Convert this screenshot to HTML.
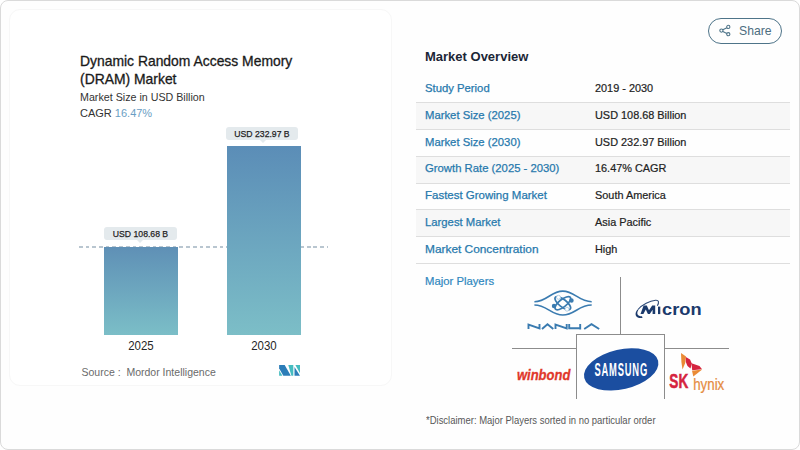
<!DOCTYPE html>
<html><head><meta charset="utf-8">
<style>
*{margin:0;padding:0;box-sizing:border-box}
html,body{width:800px;height:450px;overflow:hidden;background:#fff}
body{position:relative;font-family:"Liberation Sans",sans-serif}
.frame{position:absolute;left:0;top:0;width:800px;height:450px;border:1px solid #dadada;border-radius:8px;background:#fefefe}
.card{position:absolute;left:9px;top:9px;width:383px;height:377px;background:#fff;border-radius:11px;border:1px solid #f7f7f7}
.t{position:absolute;white-space:nowrap;line-height:1}
.lbl{color:#2779ad;-webkit-text-stroke:0.25px #2779ad}
.val{color:#222;-webkit-text-stroke:0.2px #222}
.row{position:absolute;left:416px;width:374px;height:27px}
.gray{background:#f7f7f7}
.hl{position:absolute;left:416px;width:374px;height:1px;background:#dedede}
.gl{position:absolute;background:#8c8c8c}
</style></head><body>
<div class="frame"></div>
<div class="card"></div>

<!-- chart title -->
<div class="t" style="left:80px;top:53px;font-size:13.9px;color:#1a1a1a;line-height:17.5px;-webkit-text-stroke:0.3px #1a1a1a">Dynamic Random Access Memory<br>(DRAM) Market</div>
<div class="t" style="left:80px;top:91.5px;font-size:10.7px;color:#333">Market Size in USD Billion</div>
<div class="t" style="left:80px;top:108px;font-size:11px;color:#333">CAGR <span style="color:#6a9ec4">16.47%</span></div>

<!-- dashed line -->
<div style="position:absolute;left:79px;top:246px;width:249px;height:2px;background:repeating-linear-gradient(90deg,#b9c6d0 0 3.7px,transparent 3.7px 6.7px)"></div>

<!-- bars -->
<div style="position:absolute;left:104px;top:247px;width:74px;height:88px;background:linear-gradient(#5f90b6,#7bbec7)"></div>
<div style="position:absolute;left:227px;top:146px;width:74px;height:189px;background:linear-gradient(#5b8db7,#7cbec7)"></div>

<!-- bar labels -->
<div style="position:absolute;left:104px;top:227px;width:73px;height:13px;background:#e4eaed;border-radius:3px"></div>
<div style="position:absolute;left:137px;top:240px;width:0;height:0;border-left:3px solid transparent;border-right:3px solid transparent;border-top:3px solid #e4eaed"></div>
<div class="t" style="left:104px;top:229.5px;width:73px;text-align:center;font-size:9.3px;color:#1f1f1f;transform:scaleX(0.93);-webkit-text-stroke:0.25px #1f1f1f">USD 108.68 B</div>

<div style="position:absolute;left:226px;top:127px;width:72px;height:13px;background:#e4eaed;border-radius:3px"></div>
<div style="position:absolute;left:260px;top:140px;width:0;height:0;border-left:3px solid transparent;border-right:3px solid transparent;border-top:3px solid #e4eaed"></div>
<div class="t" style="left:226px;top:129.5px;width:72px;text-align:center;font-size:9.3px;color:#1f1f1f;transform:scaleX(0.93);-webkit-text-stroke:0.25px #1f1f1f">USD 232.97 B</div>

<!-- years -->
<div class="t" style="left:104px;top:340px;width:74px;text-align:center;font-size:12.2px;color:#262626;transform:scaleX(0.94)">2025</div>
<div class="t" style="left:227px;top:340px;width:74px;text-align:center;font-size:12.2px;color:#262626;transform:scaleX(0.94)">2030</div>

<!-- source -->
<div class="t" style="left:81.5px;top:366.8px;font-size:10.5px;color:#6a6a6a">Source :&nbsp; Mordor Intelligence</div>
<svg style="position:absolute;left:0;top:0" width="800" height="450" viewBox="0 0 800 450">
<polygon points="279.1,364.9 284.7,364.9 290.8,375.8 283.3,375.8 279.1,368.3" fill="#2c7db8"/>
<polygon points="279.1,370.2 279.1,375.8 282.4,375.8" fill="#45bcc0"/>
<polygon points="288.3,364.9 293.3,364.9 293.3,375.8 291.4,375.8" fill="#45bcc0"/>
<polygon points="294.5,367 294.5,375.8 300,375.8" fill="#2c7db8"/>
<polygon points="295.4,364.9 300,364.9 300,373.3" fill="#45bcc0"/>
</svg>

<!-- share -->
<div style="position:absolute;left:708px;top:18px;width:74px;height:26px;border:1.3px solid #4e7489;border-radius:13px"></div>
<svg style="position:absolute;left:719px;top:24.4px" width="12" height="13" viewBox="0 0 12 13">
<g fill="none" stroke="#4e7489" stroke-width="1.1">
<circle cx="9.3" cy="2.9" r="1.6"/><circle cx="2.4" cy="6.6" r="1.6"/><circle cx="9.3" cy="10.2" r="1.6"/>
<line x1="3.8" y1="5.8" x2="7.9" y2="3.7"/><line x1="3.8" y1="7.4" x2="7.9" y2="9.4"/>
</g></svg>
<div class="t" style="left:739px;top:25.3px;font-size:12.2px;color:#4d6d80">Share</div>

<!-- market overview -->
<div class="t" style="left:425px;top:50px;font-size:13px;font-weight:bold;color:#1b2636">Market Overview</div>

<div class="row gray" style="top:103px"></div>
<div class="row gray" style="top:157px"></div>
<div class="row gray" style="top:210px"></div>
<div class="hl" style="top:102px"></div>
<div class="hl" style="top:129px"></div>
<div class="hl" style="top:156px"></div>
<div class="hl" style="top:183px"></div>
<div class="hl" style="top:209px"></div>
<div class="hl" style="top:236px"></div>
<div class="hl" style="top:263px"></div>

<div class="t lbl" style="left:425px;top:83px;font-size:11.3px">Study Period</div>
<div class="t val" style="font-size:10.9px;left:595px;top:83px">2019 - 2030</div>
<div class="t lbl" style="left:425px;top:110px;font-size:11.3px">Market Size (2025)</div>
<div class="t val" style="font-size:10.9px;left:595px;top:110px">USD 108.68 Billion</div>
<div class="t lbl" style="left:425px;top:137px;font-size:11.3px">Market Size (2030)</div>
<div class="t val" style="font-size:10.9px;left:595px;top:137px">USD 232.97 Billion</div>
<div class="t lbl" style="left:425px;top:163px;font-size:11.3px">Growth Rate (2025 - 2030)</div>
<div class="t val" style="font-size:10.9px;left:595px;top:163px">16.47% CAGR</div>
<div class="t lbl" style="left:425px;top:190px;font-size:11.3px;transform:scaleX(1.017);transform-origin:0 0">Fastest Growing Market</div>
<div class="t val" style="font-size:10.9px;left:595px;top:190px">South America</div>
<div class="t lbl" style="left:425px;top:217px;font-size:11.3px">Largest Market</div>
<div class="t val" style="font-size:10.9px;left:595px;top:217px">Asia Pacific</div>
<div class="t lbl" style="left:425px;top:244px;font-size:11.3px;transform:scaleX(1.051);transform-origin:0 0">Market Concentration</div>
<div class="t val" style="font-size:10.9px;left:595px;top:244px">High</div>

<div class="t" style="left:425px;top:276px;font-size:11.3px;color:#2f88be;-webkit-text-stroke:0.2px #2f88be">Major Players</div>

<!-- logo grid -->
<div class="gl" style="left:620px;top:277px;width:1px;height:57px"></div>
<div class="gl" style="left:576px;top:334px;width:89px;height:1px"></div>
<div class="gl" style="left:576px;top:334px;width:1px;height:65px"></div>
<div class="gl" style="left:664px;top:334px;width:1px;height:65px"></div>
<div class="gl" style="left:512px;top:348px;width:64px;height:1px"></div>
<div class="gl" style="left:665px;top:348px;width:64px;height:1px"></div>


<!-- logos -->
<svg style="position:absolute;left:0;top:0" width="800" height="450" viewBox="0 0 800 450">
 <!-- nanya -->
 <g transform="translate(525,285)" fill="none" stroke="#3a7bb0" stroke-width="1.6">
  <path d="M9.4,16.7 C22,16.7 26,6.1 37.8,6.1 C49.6,6.1 53.6,16.7 66.7,16.7"/>
  <path d="M9.4,20 C22,20 26,30 37.8,30 C49.6,30 53.6,20 66.7,20"/>
  <ellipse cx="37.8" cy="18.2" rx="9.5" ry="3.8" transform="rotate(38 37.8 18.2)" stroke-width="1.7"/>
  <ellipse cx="37.8" cy="18.2" rx="9.5" ry="3.8" transform="rotate(-38 37.8 18.2)" stroke-width="1.7"/>
  <circle cx="46.5" cy="15.5" r="1.4" fill="#3b7db3"/>
  <circle cx="29" cy="21" r="1.4" fill="#3b7db3"/>
  <circle cx="33.5" cy="12.3" r="2" fill="#fff" stroke="#a5c4dc" stroke-width="0.8"/>
  <circle cx="42" cy="24.2" r="2" fill="#fff" stroke="#a5c4dc" stroke-width="0.8"/>
  <path d="M3.5,44 V39.5 L14.5,43.4 V38.9 M17,44 L22.5,39.2 L28.3,44 M30.5,44 V39.5 L41.7,43.4 V38.9 M44.2,38.9 V43.2 H55.2 M55.2,38.9 V44.5 M59.2,44 L66.5,39.2 L74.2,44" stroke-width="1.9"/>
 </g>
 <!-- micron -->
 <g fill="#1b3a6c">
  <path d="M638,309.5 C642,304.5 650,300.8 655.5,300.3 C659,300 659.3,302.5 657.3,305.8" fill="none" stroke="#2c4a78" stroke-width="1.1"/>
  <path d="M642.5,318 C636.5,318.8 633.5,315 637.2,309.8 L638.6,309.4 C636,313.5 637.5,316.2 642,316.3 Z"/>
  <polygon points="640.5,314.1 643.6,305.6 646.8,305.6 649,310.2 652.2,305.6 655.2,305.6 655.2,314.1 652.6,314.1 652.6,309.8 649.8,314.1 647.9,314.1 645.8,309.6 643.4,314.1"/>
  <rect x="658" y="306.6" width="2.3" height="7.5"/>
  <text x="662" y="314.6" font-family="Liberation Sans" font-weight="bold" font-size="16.6" transform="translate(662 0) scale(1.1 1) translate(-662 0)">cron</text>
 </g>
 <!-- winbond -->
 <text x="517" y="380.2" font-family="Liberation Sans" font-weight="bold" font-style="italic" font-size="14.2" fill="#e0372a" stroke="#e0372a" stroke-width="0.3" transform="translate(517 0) scale(0.915 1) translate(-517 0)">winbond</text>
 <!-- samsung -->
 <ellipse cx="621.2" cy="369.4" rx="37.9" ry="19.9" transform="rotate(-13 621.2 369.4)" fill="#1b4ea0"/>
 <text x="621.2" y="376.2" text-anchor="middle" font-family="Liberation Sans" font-size="18" font-weight="bold" fill="#fff" transform="translate(621.2 0) scale(0.52 1) translate(-621.2 0)" letter-spacing="1.6">SAMSUNG</text>
 <!-- sk hynix -->
 <g transform="translate(678,350)">
  <polygon points="3,3 8,6.5 7.2,13 4.5,19.5 3.4,12" fill="#ea8a35"/>
  <polygon points="7.8,7 12,9.5 13.8,13.5 12.5,18.5 9.5,16 7.8,12" fill="#d5233f"/>
  <polygon points="13.5,13.2 21.5,16 24,19.3 14.2,20.2" fill="#d5233f"/>
  <polygon points="14,20.8 24.2,19.6 15.3,26.5" fill="#ea8a35"/>
 </g>
 <text x="669.3" y="388.5" font-family="Liberation Sans" font-weight="bold" font-size="19.5" fill="#d5233f" stroke="#d5233f" stroke-width="0.5" transform="translate(669.3 0) scale(0.7 1) translate(-669.3 0)">SK</text>
 <text x="693.2" y="389.7" font-family="Liberation Sans" font-size="17.3" fill="#e58b40" stroke="#e58b40" stroke-width="0.25" transform="translate(693.2 0) scale(0.77 1) translate(-693.2 0)">hynix</text>
</svg>
<div class="t" style="left:426px;top:416.2px;font-size:10.3px;color:#585858;transform:scaleX(0.92);transform-origin:0 0">*Disclaimer: Major Players sorted in no particular order</div>
</body></html>
